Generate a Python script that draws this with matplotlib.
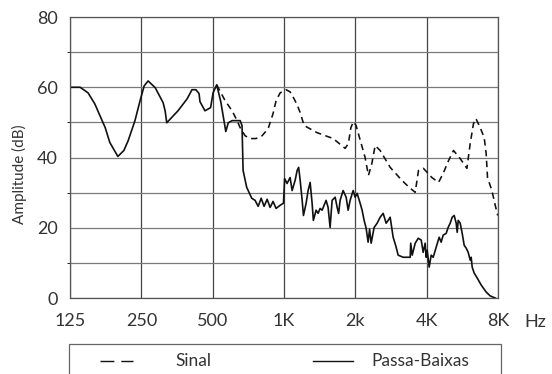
import matplotlib
matplotlib.use("Agg")
import matplotlib.pyplot as plt
from matplotlib.lines import Line2D
from matplotlib.patches import Rectangle

plt.rcParams['font.family'] = ['Lato', 'DejaVu Sans']

# octave ticks on a log-frequency axis
tickFreqs = [125, 250, 500, 1000, 2000, 4000, 8000]
tickLabels = ['125', '250', '500', '1K', '2k', '4K', '8K']
dbTicks = [0, 20, 40, 60, 80]

# low-pass filtered response
lowpassHz = [126, 138, 149, 159, 176, 184, 199, 211, 220, 235, 247, 257, 267, 286,
             309, 315, 320, 357, 390, 409, 425, 438, 442, 464, 490, 502, 520, 541,
             568, 582, 604, 653, 665, 672, 696, 731, 755, 778, 801, 824, 849, 874,
             899, 926, 963, 995, 1006, 1030, 1061, 1082, 1114, 1136, 1153, 1170,
             1193, 1208, 1240, 1264, 1289, 1314, 1330, 1366, 1393, 1420, 1448, 1505,
             1535, 1565, 1596, 1644, 1676, 1700, 1725, 1776, 1829, 1865, 1901, 1958,
             1996, 2035, 2095, 2136, 2178, 2221, 2264, 2297, 2332, 2401, 2472, 2545,
             2621, 2698, 2751, 2805, 2888, 2973, 3031, 3182, 3408, 3425, 3475, 3578,
             3684, 3793, 3866, 3942, 3981, 4020, 4099, 4179, 4261, 4387, 4516, 4605,
             4695, 4834, 4929, 5027, 5126, 5226, 5328, 5381, 5434, 5540, 5649, 5760,
             5872, 5987, 6105, 6164, 6224, 6346, 6534, 6793, 7130, 7416, 7786]
lowpassDb = [60, 60, 58.4, 55.3, 48.5, 44.3, 40.3, 42, 44.8, 50.5, 56.2, 60.4, 61.8, 59.9,
             55.6, 53.3, 49.9, 53.3, 56.7, 59.3, 59.3, 58.2, 55.9, 53.3, 54.2, 58.4, 60.7, 55.9,
             47.4, 49.9, 50.5, 50.5, 49.1, 36.3, 31.5, 28.4, 27.8, 26.1, 28.4, 26.1, 28.1, 25.8,
             27.5, 25.5, 26.4, 27, 34, 32.6, 34.3, 30.6, 33.5, 36.3, 37.2, 33.5,
             27.8, 23.5, 27, 30.6, 32.9, 27, 22.1, 25, 24.1, 25.5, 25, 27.8,
             25.8, 20.1, 27.8, 28.7, 25.8, 24.1, 27.8, 30.6, 28.7, 25, 27.8, 30.6,
             28.7, 29.8, 27, 25, 22.1, 19.9, 15.9, 19.6, 15.6, 20.1, 21.3, 23,
             24.1, 21.3, 22.1, 23, 17.3, 14.5, 12.2, 11.6, 11.6, 15.6, 12.2, 15.6,
             17, 16.5, 13, 15.6, 11.6, 13.6, 8.8, 12.2, 11.6, 14.5, 17.3, 15.9,
             17.9, 18.4, 20.1, 21.3, 23, 23.5, 21.3, 18.7, 22.1, 21.3, 18.4, 15,
             14.2, 13, 10.8, 11.6, 8.8, 7.1, 5.7, 3.7, 1.7, 0.6, 0]

# unfiltered signal above the cutoff
signalHz = [520, 564, 604, 634, 653, 685, 719, 762, 808, 857, 899, 926, 963, 1021,
            1061, 1103, 1136, 1170, 1216, 1376, 1612, 1811, 1870, 1915, 1963, 2015,
            2060, 2199, 2272, 2348, 2425, 2545, 2805, 3143, 3375, 3578, 3694, 3877,
            4208, 4488, 4711, 4945, 5191, 5540, 5914, 6105, 6302, 6452, 6727, 6993,
            7130, 7224, 7537, 7786, 7977]
signalDb = [60.7, 56.2, 53.3, 50.5, 48.5, 46.2, 45.4, 45.4, 46.2, 48.2, 52.5, 56.2, 58.4, 59.3,
            58.7, 56.7, 55, 52.8, 49.1, 47.1, 45.4, 42.6, 44, 48.5, 50.2, 49.1,
            46.8, 40, 34.9, 38.3, 43.4, 42, 37.2, 33.5, 31.5, 30.1, 36.3, 36.9,
            34.3, 32.9, 35.7, 39.1, 42, 39.7, 36.9, 44, 49.6, 51.1, 48.5, 45.7,
            41.1, 34.3, 30.6, 26.4, 23.5]

fig = plt.figure(figsize=(5.52, 3.74), dpi=100)
ax = fig.add_axes([0.1268, 0.2032, 0.7754, 0.7513])

ax.plot(signalHz, signalDb, color='#111111', lw=1.15, linestyle=(0, (4, 2.8)))
ax.plot(lowpassHz, lowpassDb, color='#111111', lw=1.2)

ax.set_xscale('log')
ax.set_xlim(125, 8000)
ax.set_ylim(0, 80)
ax.set_xticks(tickFreqs)
ax.set_xticklabels(tickLabels)
ax.minorticks_off()
ax.set_yticks(dbTicks)
ax.set_yticks(range(0, 81, 10), minor=True)
ax.tick_params(length=0, labelsize=13, labelcolor='#333333')
ax.tick_params(axis='x', pad=11)
ax.tick_params(axis='y', pad=9)

ax.grid(True, axis='x', color='#444444', lw=0.9)
ax.grid(True, axis='y', which='both', color='#7a7a7a', lw=0.9)
ax.set_axisbelow(True)
for side in ax.spines.values():
    side.set_color('#555555')
    side.set_linewidth(0.9)

ax.set_ylabel('Amplitude (dB)', fontsize=11, color='#333333')
ax.yaxis.set_label_coords(-0.1, 0.44)
fig.text(535 / 552, 1 - 322 / 374, 'Hz', fontsize=13, color='#333333',
         ha='center', va='center')

# legend box, running off the bottom edge
fig.patches.append(Rectangle((69 / 552, -0.05), 432 / 552, 0.05 + 1 - 344 / 374,
                             transform=fig.transFigure, fill=False,
                             edgecolor='#666666', lw=0.9))
legY = 1 - 361 / 374
fig.lines.append(Line2D([100 / 552, 133 / 552], [legY, legY], transform=fig.transFigure,
                        color='#111111', lw=1.0, linestyle=(0, (10, 5))))
fig.text(193 / 552, legY, 'Sinal', fontsize=12.5, color='#333333', ha='center', va='center')
fig.lines.append(Line2D([313 / 552, 353 / 552], [legY, legY], transform=fig.transFigure,
                        color='#111111', lw=1.0))
fig.text(420 / 552, legY, 'Passa-Baixas', fontsize=12.5, color='#333333',
         ha='center', va='center')

fig.savefig('out.png', dpi=100, facecolor='white')
